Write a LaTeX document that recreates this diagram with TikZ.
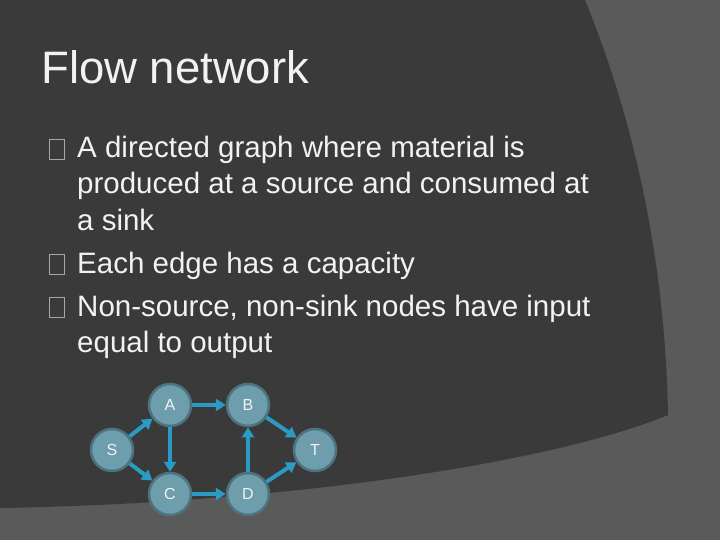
\documentclass[tikz,border=0pt]{standalone}
\usepackage{fontspec}
\setmainfont{Liberation Sans}
\usetikzlibrary{arrows.meta}
\definecolor{bgl}{HTML}{5A5A5A}
\definecolor{bgd}{HTML}{3A3A3A}
\definecolor{nodef}{HTML}{6E9DAC}
\definecolor{nodeb}{HTML}{4E7380}
\definecolor{arr}{HTML}{2B9BC6}
\definecolor{txt}{HTML}{F2F2F2}
\tikzset{
  gn/.style={circle,fill=nodef,draw=nodeb,line width=2.5pt,minimum size=42pt,inner sep=0pt,text=txt,font=\fontsize{16}{16}\selectfont},
  ed/.style={draw=arr,line width=4pt,-{Triangle[length=10pt,width=12pt]},shorten >=0pt},
  body/.style={text=txt,anchor=base west,inner sep=0pt,font=\fontsize{29.5}{30}\selectfont},
  bul/.style={draw=gray!70,line width=0.8pt}
}
\begin{document}
\begin{tikzpicture}[x=1pt,y=-1pt]
\useasboundingbox (0,0) rectangle (720,540);
\fill[bgl] (0,0) rectangle (720,540);
\fill[bgd] (0,0) -- (585,0) .. controls (630,110) and (665,250) .. (668,415)
  .. controls (560,460) and (300,503) .. (0,508) -- cycle;
\node[text=txt,anchor=base west,inner sep=0pt,font=\fontsize{45.5}{46}\selectfont] (title) at (41,84) {Flow network};
\node[body] (l1) at (77,158) {A directed graph where material is};
\node[body] (l2) at (77,194) {produced at a source and consumed at};
\node[body] (l3) at (77,230) {a sink};
\node[body] (l4) at (77,273) {Each edge has a capacity};
\node[body] (l5) at (77,316) {Non-source, non-sink nodes have input};
\node[body] (l6) at (77,352) {equal to output};
\draw[bul] (49,139) rectangle (64,159);
\draw[bul] (49,254) rectangle (64,274);
\draw[bul] (49,297) rectangle (64,317);
\node[gn] (S) at (112,450) {S};
\node[gn] (A) at (170,405) {A};
\node[gn] (B) at (248,405) {B};
\node[gn] (T) at (315,450) {T};
\node[gn] (C) at (170,494) {C};
\node[gn] (D) at (248,494) {D};
\draw[ed] (S) -- (A);
\draw[ed] (S) -- (C);
\draw[ed] (A) -- (B);
\draw[ed] (A) -- (C);
\draw[ed] (C) -- (D);
\draw[ed] (D) -- (B);
\draw[ed] (B) -- (T);
\draw[ed] (D) -- (T);
\end{tikzpicture}
\end{document}
